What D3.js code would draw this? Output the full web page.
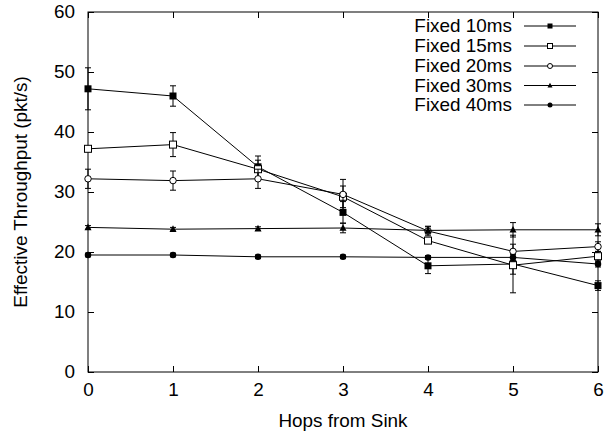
<!DOCTYPE html>
<html><head><meta charset="utf-8">
<script src="https://cdn.jsdelivr.net/npm/d3@7"></script>
<style>body{margin:0;background:#fff}svg{display:block}text{font-family:"Liberation Sans",Arial,sans-serif;fill:#000}</style>
</head><body><svg id="c" width="614" height="431"></svg>
<script>
const hops = [0,1,2,3,4,5,6];
const seriesNames = ["Fixed 10ms","Fixed 15ms","Fixed 20ms","Fixed 30ms","Fixed 40ms"];
const fixed10 = [47.2,46.0,34.2,26.6,17.7,18.0,14.4];
const fixed15 = [37.2,37.9,33.8,29.2,21.9,17.8,19.3];
const fixed20 = [32.2,31.9,32.2,29.6,23.5,20.1,20.9];
const fixed30 = [24.1,23.8,23.9,24.0,23.6,23.7,23.7];
const fixed40 = [19.5,19.5,19.2,19.2,19.1,19.1,18.0];
const err10 = [3.5,1.7,1.8,1.8,1.3,4.8,0.8];
const err15 = [0.4,2.0,1.5,1.8,0.5,1.5,0.8];
const err20 = [1.6,1.6,1.6,2.5,0.8,1.2,0.8];
const err30 = [0.3,0.3,0.3,0.8,0.6,1.2,1.0];
const err40 = [0.3,0.3,0.3,0.3,0.3,0.5,0.5];
const yTicks = [0,10,20,30,40,50,60];
const xTicks = [0,1,2,3,4,5,6];

const values = [fixed10,fixed15,fixed20,fixed30,fixed40];
const errs = [err10,err15,err20,err30,err40];
const markers = ["fsquare","osquare","ocircle","ftriangle","fcircle"];

const L=88,R=598,T=12,B=372;
const x = d3.scaleLinear().domain([0,6]).range([L,R]);
const y = d3.scaleLinear().domain([0,60]).range([B,T]);
const svg = d3.select("#c");
const FS = 17.5, SX = 1.08;

// frame
svg.append("rect").attr("x",L).attr("y",T).attr("width",R-L).attr("height",B-T)
  .attr("fill","none").attr("stroke","#000").attr("stroke-width",1);

// axes with inward ticks
const ax = (g)=>{g.select(".domain").remove(); g.selectAll("text").attr("font-size",FS).attr("transform",`scale(${SX},1)`);};
svg.append("g").attr("transform",`translate(0,${B})`)
  .call(d3.axisBottom(x).tickValues(xTicks).tickFormat(d3.format("d")).tickSizeInner(-6).tickPadding(12))
  .call(ax);
svg.append("g").attr("transform",`translate(0,${T})`)
  .call(d3.axisTop(x).tickValues(xTicks).tickFormat("").tickSizeInner(-6)).call(ax);
svg.append("g").attr("transform",`translate(${L},0)`)
  .call(d3.axisLeft(y).tickValues(yTicks).tickFormat(d3.format("d")).tickSizeInner(-6).tickPadding(12))
  .call(ax);
svg.append("g").attr("transform",`translate(${R},0)`)
  .call(d3.axisRight(y).tickValues(yTicks).tickFormat("").tickSizeInner(-6)).call(ax);
svg.selectAll(".tick line").attr("stroke","#000");
svg.selectAll(".tick text").attr("font-family",'"Liberation Sans",Arial,sans-serif').attr("fill","#000");

// axis titles
svg.append("text").attr("x",0).attr("y",0)
  .attr("transform",`translate(${(L+R)/2},427) scale(${SX},1)`)
  .attr("text-anchor","middle").attr("font-size",FS).text("Hops from Sink");
svg.append("text")
  .attr("transform",`translate(27,${(T+B)/2}) rotate(-90) scale(${SX},1)`)
  .attr("text-anchor","middle").attr("font-size",FS).text("Effective Throughput (pkt/s)");

function drawMarker(g,type,cx,cy,s){
  if(type==="fsquare") g.append("rect").attr("x",cx-s/2).attr("y",cy-s/2).attr("width",s).attr("height",s).attr("fill","#000");
  else if(type==="osquare") g.append("rect").attr("x",cx-s/2).attr("y",cy-s/2).attr("width",s).attr("height",s).attr("fill","#fff").attr("stroke","#000").attr("stroke-width",1);
  else if(type==="ocircle") g.append("circle").attr("cx",cx).attr("cy",cy).attr("r",s/2).attr("fill","#fff").attr("stroke","#000").attr("stroke-width",1);
  else if(type==="fcircle") g.append("circle").attr("cx",cx).attr("cy",cy).attr("r",s/2).attr("fill","#000");
  else if(type==="ftriangle") g.append("path").attr("d",`M${cx},${cy-s*0.55}L${cx+s/2},${cy+s*0.4}L${cx-s/2},${cy+s*0.4}Z`).attr("fill","#000");
}

const line = d3.line().x((d,i)=>x(hops[i])).y(d=>y(d));
values.forEach((vals,k)=>{
  const g = svg.append("g");
  g.append("path").datum(vals).attr("d",line).attr("fill","none").attr("stroke","#000").attr("stroke-width",1);
  vals.forEach((v,i)=>{
    const e = errs[k][i], cx = x(hops[i]);
    g.append("line").attr("x1",cx).attr("x2",cx).attr("y1",y(v-e)).attr("y2",y(v+e)).attr("stroke","#000");
    [v-e,v+e].forEach(w=>g.append("line").attr("x1",cx-3).attr("x2",cx+3).attr("y1",y(w)).attr("y2",y(w)).attr("stroke","#000"));
  });
  vals.forEach((v,i)=>drawMarker(g,markers[k],x(hops[i]),y(v),markers[k].includes("circle")?6.5:7));
});

// legend
const legY = [26,46,66,85.5,105];
seriesNames.forEach((n,k)=>{
  svg.append("text").attr("transform",`translate(512,${legY[k]+6}) scale(${SX},1)`)
    .attr("text-anchor","end").attr("font-size",FS).text(n);
  svg.append("line").attr("x1",524).attr("x2",576).attr("y1",legY[k]).attr("y2",legY[k]).attr("stroke","#000");
  drawMarker(svg,markers[k],550,legY[k],5);
});
</script></body></html>
